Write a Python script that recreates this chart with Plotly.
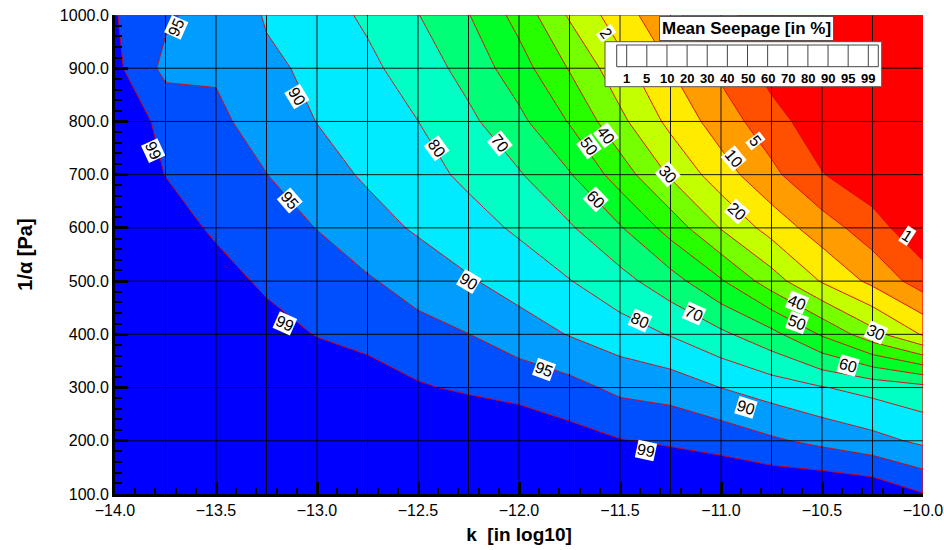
import numpy as np
import plotly.graph_objects as go

# ---------------- data ----------------
K_LOG10 = [-14.0, -13.75, -13.5, -13.25, -13.0, -12.75, -12.5, -12.25, -12.0,
           -11.75, -11.5, -11.25, -11.0, -10.75, -10.5, -10.25, -10.0]
INV_ALPHA = [100, 200, 300, 400, 500, 600, 700, 800, 900, 1000]

SEEPAGE_Y100 = [100, 100, 100, 100, 100, 100, 100, 100, 100, 100, 100, 100, 100, 100, 100, 99.8, 99.05]
SEEPAGE_Y200 = [100, 100, 100, 100, 100, 100, 100, 100, 99.8, 99.4, 99.05, 98.5, 97.5, 95.6, 93.7, 91.6, 88]
SEEPAGE_Y300 = [100, 100, 100, 100, 99.9, 99.6, 99.1, 98.4, 97.5, 96.3, 93.8, 92.8, 89.9, 85.2, 80.55, 76.7, 73]
SEEPAGE_Y400 = [100, 100, 99.9, 99.5, 98.8, 97.5, 96.25, 95.05, 92.4, 89.5, 84.6, 79.4, 72.1, 63.1, 48.9, 33.6, 19]
SEEPAGE_Y500 = [100, 99.9, 99.5, 98.1, 96.8, 95.4, 93.1, 90.5, 85.7, 80.4, 73.4, 64.1, 51.1, 34.7, 19.1, 8.75, 3.0]
SEEPAGE_Y600 = [100, 99.6, 98.2, 96.6, 94.9, 92.0, 88.7, 83.8, 78.5, 71.2, 60.9, 46.0, 29.4, 16.0, 7.4, 2.8, 0.2]
SEEPAGE_Y700 = [100, 98.9, 97.0, 95.05, 92.1, 88.6, 83.6, 78.0, 70.9, 60.8, 45.3, 28.7, 14.5, 6.25, 1.2, 0.3, 0.1]
SEEPAGE_Y800 = [99.75, 97.8, 95.7, 93.2, 89.8, 84.9, 80.05, 72.2, 62.5, 49.3, 32.5, 17.3, 7.6, 2.6, 0.4, 0.2, 0.1]
SEEPAGE_Y900 = [99.25, 93.7, 94.5, 90.6, 88.7, 82.1, 75.5, 66.3, 54.4, 39.3, 23.7, 10.05, 4.1, 0.6, 0.4, 0.2, 0.1]
SEEPAGE_Y1000 = [99.05, 95.7, 92.6, 89.4, 84.2, 78.4, 70.3, 60.4, 46.4, 28.8, 14.5, 6.2, 1.8, 0.6, 0.3, 0.15, 0.05]

LEVELS = [1, 5, 10, 20, 30, 40, 50, 60, 70, 80, 90, 95, 99]
LEVEL_LABELS = ["1", "5", "10", "20", "30", "40", "50", "60", "70", "80", "90", "95", "99"]

# band colours from lowest (<1) to highest (>99)
BAND_COLORS = ["#ff0000", "#ff4f00", "#ff9d00", "#ffeb00", "#c4ff00", "#76ff00",
               "#27ff00", "#00ff26", "#00ff76", "#00ffc4", "#00ebff", "#009dff",
               "#004fff", "#0000ff"]

X_TICKS = [-14.0, -13.5, -13.0, -12.5, -12.0, -11.5, -11.0, -10.5, -10.0]
Y_TICKS = [100, 200, 300, 400, 500, 600, 700, 800, 900, 1000]

# contour labels: (text, k, 1/alpha, angle)
CONTOUR_LABELS = [
    ("95", -13.698, 977, -66), ("99", -13.812, 745, 65), ("90", -13.099, 847, 59),
    ("95", -13.134, 652, 49), ("80", -12.406, 750, 54), ("70", -12.094, 759, 51),
    ("60", -11.619, 654, 46), ("50", -11.653, 753, 54), ("40", -11.569, 774, 53),
    ("30", -11.262, 701, 49), ("20", -10.921, 631, 42), ("10", -10.936, 731, 50),
    ("5", -10.827, 763, 52), ("1", -10.079, 586, 33), ("2", -11.567, 966, 55),
    ("99", -13.158, 421, 24), ("90", -12.248, 500, 31), ("95", -11.876, 334, 20),
    ("80", -11.401, 426, 24), ("70", -11.134, 439, 24), ("90", -10.876, 263, 17),
    ("99", -11.371, 182, 12), ("60", -10.371, 341, 16), ("50", -10.624, 422, 20),
    ("40", -10.624, 460, 22), ("30", -10.233, 404, 24),
]

# ---------------- build figure ----------------
z = np.array([SEEPAGE_Y100, SEEPAGE_Y200, SEEPAGE_Y300, SEEPAGE_Y400, SEEPAGE_Y500,
              SEEPAGE_Y600, SEEPAGE_Y700, SEEPAGE_Y800, SEEPAGE_Y900, SEEPAGE_Y1000], float)
lv = np.array(LEVELS, float)
idx = np.arange(len(lv), dtype=float)
# map the non-uniform levels onto uniform level indices
t = np.interp(z, lv, idx)
t = np.where(z < lv[0], z - lv[0], t)
t = np.where(z > lv[-1], idx[-1] + (z - lv[-1]), t)

nb = len(BAND_COLORS)
colorscale = []
for j, c in enumerate(BAND_COLORS):
    lo = max(0.0, (j - 0.5) / (nb - 1))
    hi = min(1.0, (j + 0.5) / (nb - 1))
    colorscale += [[lo, c], [hi, c]]

FONT = "Liberation Sans, Arial, sans-serif"

fig = go.Figure()
fig.add_trace(go.Contour(
    x=K_LOG10, y=INV_ALPHA, z=t,
    autocontour=False,
    contours=dict(start=0, end=len(LEVELS) - 1, size=1, coloring="fill", showlabels=False),
    colorscale=colorscale, showscale=False,
    line=dict(color="#e00000", width=0.9, smoothing=0),
    hoverinfo="skip",
))

x0, x1 = K_LOG10[0], K_LOG10[-1]
y0, y1 = INV_ALPHA[0], INV_ALPHA[-1]
shapes = []
# grid lines drawn above the filled contours
for xv in np.arange(x0 + 0.25, x1 - 0.01, 0.25):
    shapes.append(dict(type="line", xref="x", yref="y", x0=xv, x1=xv, y0=y0, y1=y1,
                       line=dict(color="rgba(0,0,0,0.9)", width=1), layer="above"))
for yv in Y_TICKS[1:-1]:
    shapes.append(dict(type="line", xref="x", yref="y", x0=x0, x1=x1, y0=yv, y1=yv,
                       line=dict(color="rgba(0,0,0,0.9)", width=1), layer="above"))
# red boundary on top / right
shapes.append(dict(type="line", xref="x", yref="y", x0=x0, x1=x1, y0=y1, y1=y1,
                   line=dict(color="#ff0000", width=1.2), layer="above"))
shapes.append(dict(type="line", xref="x", yref="y", x0=x1, x1=x1, y0=y0, y1=y1,
                   line=dict(color="#ff0000", width=1.2), layer="above"))

# legend (pixel helpers for the legend box)
L, R, T, B = 115, 923, 15, 494.0
def px(xp):
    return (xp - L) / (R - L)
def py(yp):
    return (B - yp) / (B - T)

shapes.append(dict(type="rect", xref="paper", yref="paper", x0=px(605), x1=px(881.7),
                   y0=py(86.7), y1=py(41.7), fillcolor="white",
                   line=dict(color="#555555", width=1), layer="above"))
cell_l, cell_r = 616.7, 878.3
shapes.append(dict(type="rect", xref="paper", yref="paper", x0=px(cell_l), x1=px(cell_r),
                   y0=py(66.7), y1=py(45), fillcolor="white",
                   line=dict(color="#444444", width=1), layer="above"))
first_div, step = 626.7, (868.3 - 626.7) / (len(LEVELS) - 1)
annotations = []
for i, lab in enumerate(LEVEL_LABELS):
    xd = first_div + i * step
    shapes.append(dict(type="line", xref="paper", yref="paper", x0=px(xd), x1=px(xd),
                       y0=py(66.7), y1=py(45), line=dict(color="#444444", width=1),
                       layer="above"))
    annotations.append(dict(xref="paper", yref="paper", x=px(xd), y=py(78.5), text="<b>%s</b>" % lab,
                            showarrow=False, font=dict(family=FONT, size=13, color="black"),
                            xanchor="center", yanchor="middle"))

for txt, kx, ay, ang in CONTOUR_LABELS:
    annotations.append(dict(xref="x", yref="y", x=kx, y=ay, text=txt, showarrow=False,
                            textangle=ang, bgcolor="white", borderpad=0,
                            font=dict(family=FONT, size=16, color="black"),
                            xanchor="center", yanchor="middle"))

annotations.append(dict(xref="paper", yref="paper", x=px(746.7), y=py(28.7),
                        text="<b>Mean Seepage [in %]</b>", showarrow=False,
                        bgcolor="white", bordercolor="#555555", borderwidth=1, borderpad=2,
                        font=dict(family=FONT, size=17, color="black"),
                        xanchor="center", yanchor="middle"))

fig.update_layout(
    width=944, height=550,
    margin=dict(l=115, r=21, t=15, b=56, autoexpand=False),
    paper_bgcolor="white", plot_bgcolor="white",
    font=dict(family=FONT, color="black"),
    shapes=shapes, annotations=annotations,
    showlegend=False,
)
fig.update_xaxes(
    range=[x0, x1], tickvals=X_TICKS, tickformat=".1f", automargin=False,
    ticks="inside", ticklen=12, tickwidth=2.5, tickcolor="black",
    minor=dict(dtick=0.1, tick0=-14, ticks="inside", ticklen=6, tickwidth=1.5, tickcolor="black",
               showgrid=False),
    showgrid=False, zeroline=False, showline=True, linewidth=3, linecolor="black",
    layer="above traces", tickfont=dict(family=FONT, size=16, color="black"),
    ticklabelstandoff=0,
    title=dict(text="<b>k  [in log10]</b>", font=dict(family=FONT, size=19, color="black"),
               standoff=10),
)
fig.update_yaxes(
    range=[y0, y1], tickvals=Y_TICKS, tickformat=".1f", automargin=False,
    ticks="inside", ticklen=13, tickwidth=2.5, tickcolor="black",
    minor=dict(dtick=20, tick0=100, ticks="inside", ticklen=7, tickwidth=1.5, tickcolor="black",
               showgrid=False),
    showgrid=False, zeroline=False, showline=True, linewidth=3, linecolor="black",
    layer="above traces", tickfont=dict(family=FONT, size=16, color="black"),
    ticklabelstandoff=0,
    title=dict(text="<b>1/α [Pa]</b>", font=dict(family=FONT, size=20, color="black"),
               standoff=22),
)

fig.write_html("out.html", config={"displayModeBar": False},
               post_script="document.body.style.margin='0';")
